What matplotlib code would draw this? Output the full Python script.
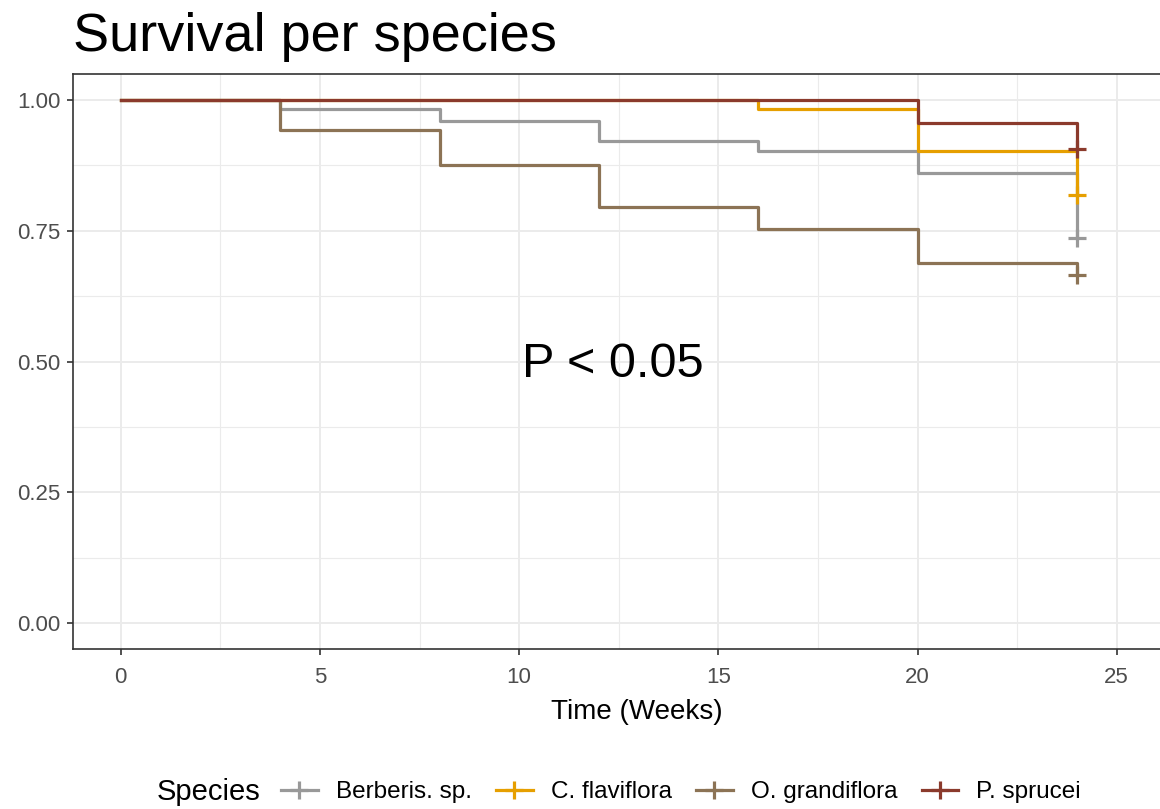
import numpy as np
import matplotlib
matplotlib.use("Agg")
from matplotlib import pyplot as plt
from matplotlib.lines import Line2D

plt.rcParams['font.family'] = ['Liberation Sans', 'DejaVu Sans']

# survival estimates (Kaplan-Meier steps)
weeks = [0, 4, 8, 12, 16, 20, 24]
species = ["Berberis. sp.", "C. flaviflora", "O. grandiflora", "P. sprucei"]
surv_berberis = [1.0, 0.983, 0.960, 0.921, 0.902, 0.860, 0.737]
surv_flaviflora = [1.0, 1.0, 1.0, 1.0, 0.983, 0.903, 0.818]
surv_grandiflora = [1.0, 0.943, 0.875, 0.795, 0.753, 0.689, 0.665]
surv_sprucei = [1.0, 1.0, 1.0, 1.0, 1.0, 0.957, 0.906]
colors = ["#999999", "#E69F00", "#8C7355", "#8B3A2C"]

x_ticks = [0, 5, 10, 15, 20, 25]
y_ticks = [0.0, 0.25, 0.5, 0.75, 1.0]
y_ticklabels = ["0.00", "0.25", "0.50", "0.75", "1.00"]

fig = plt.figure(figsize=(11.6, 8.09), dpi=100)
# panel runs past the right edge of the picture, as in the reference
ax = fig.add_axes([73 / 1160, 1 - 649 / 809, 1127 / 1160, 575 / 809])

all_surv = [surv_berberis, surv_flaviflora, surv_grandiflora, surv_sprucei]
for s, col in zip(all_surv, colors):
    ax.step(weeks, s, where="post", color=col, lw=2.3, zorder=3)
    ax.plot(weeks[-1], s[-1], marker="+", color=col, ms=13, mew=2.3, zorder=4)

ax.set_xlim(-1.2, 27.09)
ax.set_ylim(-0.05, 1.05)
ax.set_xticks(x_ticks)
ax.set_yticks(y_ticks)
ax.set_yticklabels(y_ticklabels)
ax.set_xticks(np.arange(2.5, 27, 5), minor=True)
ax.set_yticks([0.125, 0.375, 0.625, 0.875], minor=True)
ax.grid(which="major", color="#EBEBEB", lw=1.4, zorder=0)
ax.grid(which="minor", color="#EBEBEB", lw=0.8, zorder=0)
ax.set_axisbelow(True)
ax.tick_params(which="major", length=4, width=1.2, color="#333333",
               labelcolor="#4D4D4D", labelsize=16, pad=5)
ax.tick_params(axis="x", which="major", pad=9)
ax.tick_params(which="minor", length=0)
for sp in ax.spines.values():
    sp.set_color("#333333")
    sp.set_linewidth(1.2)

ax.set_xlabel("Time (Weeks)", fontsize=20, color="black", labelpad=8)
ax.text(12.35, 0.495, "P < 0.05", fontsize=35, ha="center", va="center")

fig.text(73 / 1160, 1 - 51 / 809, "Survival per species", fontsize=39,
         ha="left", va="baseline")

handles = [Line2D([0], [0], color=c, lw=2.3, marker="+", ms=13, mew=2.3)
           for c in colors]
fig.legend(handles, species, ncol=4, loc="center", bbox_to_anchor=(681 / 1160, 1 - 792 / 809),
           frameon=False, fontsize=17.5, handlelength=1.5, handletextpad=0.75,
           columnspacing=1.0)
fig.text(157 / 1160, 1 - 792 / 809, "Species", fontsize=21, ha="left", va="center")

plt.savefig("out.png", dpi=100)
